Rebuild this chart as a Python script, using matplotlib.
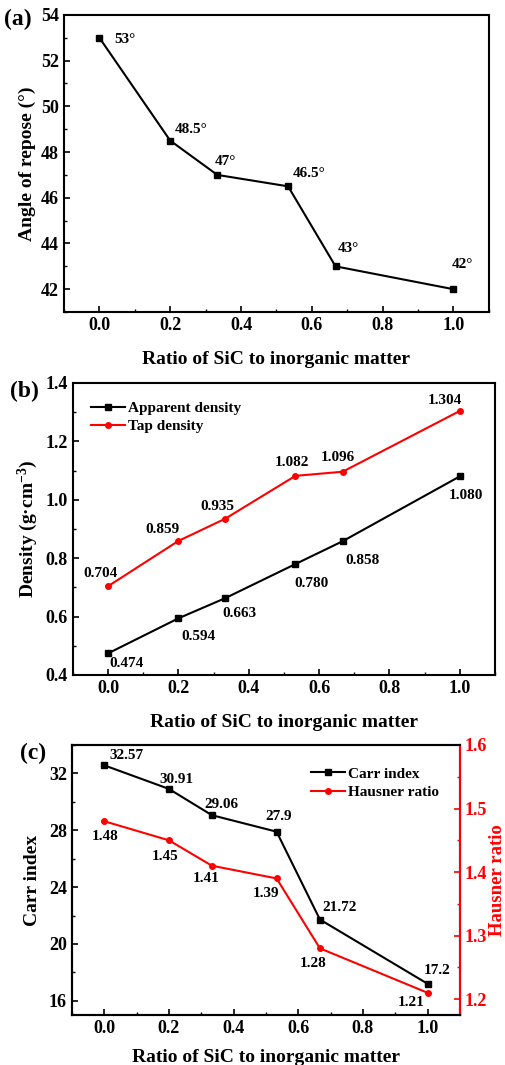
import matplotlib
matplotlib.use("Agg")
import matplotlib.pyplot as plt
from matplotlib.ticker import MultipleLocator

plt.rcParams["font.family"] = "Liberation Serif"
plt.rcParams["font.weight"] = "bold"
plt.rcParams["axes.labelweight"] = "bold"
plt.rcParams["axes.linewidth"] = 1.5
plt.rcParams["xtick.direction"] = "in"
plt.rcParams["ytick.direction"] = "in"
plt.rcParams["mathtext.fontset"] = "custom"
plt.rcParams["mathtext.rm"] = "Liberation Serif:bold"
plt.rcParams["mathtext.bf"] = "Liberation Serif:bold"
plt.rcParams["mathtext.default"] = "bf"

# ---------------- Data ----------------
ratio = [0.0, 0.2, 0.333, 0.533, 0.667, 1.0]

angle = [53, 48.5, 47, 46.5, 43, 42]
angle_labels = ["53°", "48.5°", "47°", "46.5°", "43°", "42°"]

apparent = [0.474, 0.594, 0.663, 0.780, 0.858, 1.080]
tap = [0.704, 0.859, 0.935, 1.082, 1.096, 1.304]
apparent_labels = ["0.474", "0.594", "0.663", "0.780", "0.858", "1.080"]
tap_labels = ["0.704", "0.859", "0.935", "1.082", "1.096", "1.304"]

carr = [32.57, 30.91, 29.06, 27.9, 21.72, 17.2]
hausner = [1.48, 1.45, 1.41, 1.39, 1.28, 1.21]
carr_labels = ["32.57", "30.91", "29.06", "27.9", "21.72", "17.2"]
hausner_labels = ["1.48", "1.45", "1.41", "1.39", "1.28", "1.21"]

# label offsets in pixels (dx, dy down)
angle_off = [(15, 2), (5, -11), (-3, -13), (5, -13), (2, -18), (-2, -25)]
app_off = [(18, 10), (20, 18), (14, 15), (16, 19), (20, 19), (6, 19)]
tap_off = [(-8, -13), (-16, -11), (-8, -12), (-4, -13), (-5, -14), (-15, -11)]
carr_off = [(22, -10), (8, -9), (10, -11), (2, -15), (20, -12), (9, -13)]
haus_off = [(1, 15), (-4, 16), (-6, 13), (-11, 15), (-7, 15), (-16, 10)]

TS = 13
AS = 11
LS = 14
xlab = "Ratio of SiC to inorganic matter"


def label_points(ax, xs, ys, texts, offs, color="black", ha="center"):
    for x, y, t, (dx, dy) in zip(xs, ys, texts, offs):
        ax.annotate(t, (x, y), xytext=(dx * 0.72, -dy * 0.72), textcoords="offset points",
                    ha=ha, va="center", fontsize=AS, fontweight="bold", color=color)


def style(ax):
    ax.xaxis.set_major_locator(MultipleLocator(0.2))
    ax.xaxis.set_minor_locator(MultipleLocator(0.1))
    ax.set_xlim(-0.1, 1.1)
    ax.tick_params(which="major", length=4, width=1.2, labelsize=TS, top=False, right=False)
    ax.tick_params(which="minor", length=2, width=1.0, top=False, right=False)
    for lab in ax.get_xticklabels() + ax.get_yticklabels():
        lab.set_fontweight("bold")


fig = plt.figure(figsize=(5.06, 10.65), dpi=100)

# ---------------- (a) Angle of repose ----------------
ax1 = fig.add_axes([0.1265, 0.707, 0.8395, 0.279])
ax1.plot(ratio, angle, color="black", lw=1.5, marker="s", ms=4)
ax1.set_ylim(41, 54)
ax1.yaxis.set_major_locator(MultipleLocator(2))
ax1.yaxis.set_minor_locator(MultipleLocator(1))
style(ax1)
label_points(ax1, ratio, angle, angle_labels, angle_off, ha="left")
ax1.set_ylabel("Angle of repose (°)", fontsize=LS, labelpad=4)
ax1.set_xlabel(xlab, fontsize=LS, labelpad=12)
fig.text(0.008, 0.982, "(a)", fontsize=17, fontweight="bold", va="center")

# ---------------- (b) Density ----------------
ax2 = fig.add_axes([0.144, 0.3662, 0.834, 0.2742])
ax2.plot(ratio, apparent, color="black", lw=1.5, marker="s", ms=4, label="Apparent density")
ax2.plot(ratio, tap, color="red", lw=1.5, marker="o", ms=4, label="Tap density")
ax2.set_ylim(0.4, 1.4)
ax2.yaxis.set_major_locator(MultipleLocator(0.2))
ax2.yaxis.set_minor_locator(MultipleLocator(0.1))
style(ax2)
label_points(ax2, ratio, apparent, apparent_labels, app_off)
label_points(ax2, ratio, tap, tap_labels, tap_off)
ax2.legend(loc="upper left", frameon=False, fontsize=11, handlelength=2.2,
           borderaxespad=0.8, labelspacing=0.3, handletextpad=0.2)
ax2.set_ylabel("Density (g·cm$^{-3}$)", fontsize=LS, labelpad=4)
ax2.set_xlabel(xlab, fontsize=LS, labelpad=12)
fig.text(0.02, 0.632, "(b)", fontsize=17, fontweight="bold", va="center")

# ---------------- (c) Carr index / Hausner ratio ----------------
ax3 = fig.add_axes([0.142, 0.0469, 0.767, 0.2536])
l1, = ax3.plot(ratio, carr, color="black", lw=1.5, marker="s", ms=4, label="Carr index")
ax3.set_ylim(15, 34)
ax3.yaxis.set_major_locator(MultipleLocator(4))
ax3.yaxis.set_minor_locator(MultipleLocator(2))
style(ax3)
label_points(ax3, ratio, carr, carr_labels, carr_off)
ax3.set_ylabel("Carr index", fontsize=LS, labelpad=6)
ax3.set_xlabel(xlab, fontsize=LS, labelpad=9)

ax4 = ax3.twinx()
l2, = ax4.plot(ratio, hausner, color="red", lw=1.5, marker="o", ms=4, label="Hausner ratio")
ax4.set_ylim(1.175, 1.6)
ax4.yaxis.set_major_locator(MultipleLocator(0.1))
ax4.yaxis.set_minor_locator(MultipleLocator(0.05))
ax4.spines["right"].set_color("red")
ax4.spines["right"].set_linewidth(1.5)
ax4.tick_params(axis="y", which="major", colors="red", length=4, width=1.2, labelsize=TS)
ax4.tick_params(axis="y", which="minor", colors="red", length=2, width=1.0)
for lab in ax4.get_yticklabels():
    lab.set_fontweight("bold")
label_points(ax4, ratio, hausner, hausner_labels, haus_off)
ax4.set_ylabel("Hausner ratio", fontsize=13.5, color="red", labelpad=1)
ax4.legend([l1, l2], ["Carr index", "Hausner ratio"], loc="upper right", frameon=False,
           fontsize=11, handlelength=2.2, borderaxespad=0.6, labelspacing=0.3,
           handletextpad=0.2, bbox_to_anchor=(0.985, 0.975))
fig.text(0.04, 0.293, "(c)", fontsize=17, fontweight="bold", va="center")

fig.savefig("out.png", dpi=100)
